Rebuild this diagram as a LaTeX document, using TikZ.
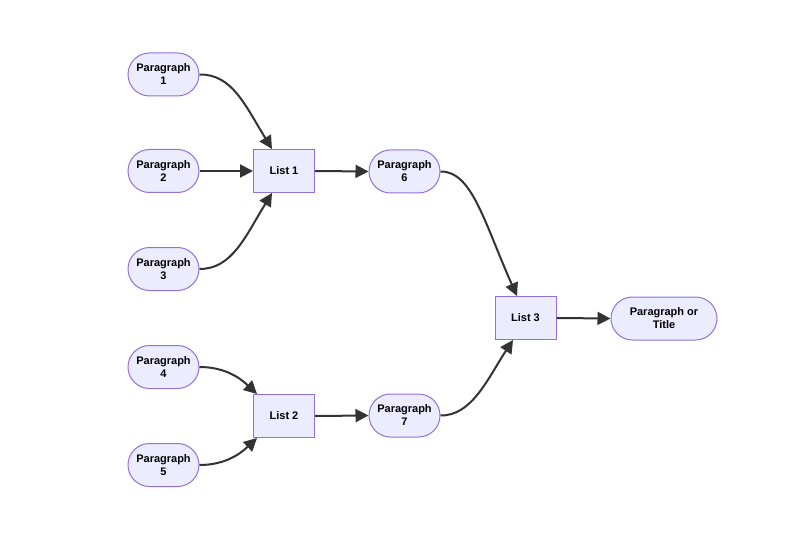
\documentclass[tikz,border=0pt]{standalone}
\usepackage{fontspec}
\setmainfont{Liberation Sans}
\usetikzlibrary{arrows.meta,calc}
\definecolor{nodefill}{HTML}{ECECFF}
\definecolor{nodeborder}{HTML}{9370DB}
\definecolor{edgecol}{HTML}{333333}
\begin{document}
\begin{tikzpicture}[x=1pt,y=-1pt,
  lbl/.style={font=\fontsize{11}{13}\selectfont\bfseries, align=center, text=black},
  para/.style={lbl, draw=nodeborder, fill=nodefill, line width=1pt, rounded corners=21.5pt, minimum width=71pt, minimum height=43pt, inner sep=0pt},
  listbox/.style={lbl, draw=nodeborder, fill=nodefill, line width=1pt, minimum width=61pt, minimum height=43pt, inner sep=0pt},
  edge/.style={draw=edgecol, line width=2pt, -{Triangle[length=13pt,width=13pt]}}
]
\useasboundingbox (0,0) rectangle (791,537);
\fill[white] (0,0) rectangle (791,537);
\node[para] (p1) at (163.5,74.5) {Paragraph\\1};
\node[para] (p2) at (163.5,171) {Paragraph\\2};
\node[para] (p3) at (163.5,269) {Paragraph\\3};
\node[para] (p4) at (163.5,367) {Paragraph\\4};
\node[para] (p5) at (163.5,465) {Paragraph\\5};
\node[listbox] (l1) at (284,171) {List 1};
\node[listbox] (l2) at (284,416) {List 2};
\node[para] (p6) at (404.5,171.5) {Paragraph\\6};
\node[para] (p7) at (404.5,415.5) {Paragraph\\7};
\node[listbox] (l3) at (525.5,318) {List 3};
\node[para, minimum width=106pt] (pt) at (664,318.5) {Paragraph or\\Title};
\coordinate (l1n) at ($(l1.north)+(-12,0)$);
\coordinate (l1s) at ($(l1.south)+(-12,0)$);
\coordinate (l2n) at ($(l2.north west)+(4,0)$);
\coordinate (l2s) at ($(l2.south west)+(4,0)$);
\coordinate (l3n) at ($(l3.north)+(-8.5,0)$);
\coordinate (l3s) at ($(l3.south)+(-12.5,0)$);

\draw[edge] (p1.east) .. controls (232,74) and (245,105) .. (l1n);
\draw[edge] (p2.east) -- (l1.west);
\draw[edge] (p3.east) .. controls (232,269) and (245,237) .. (l1s);
\draw[edge] (p4.east) .. controls (225,367) and (240,378) .. (l2n);
\draw[edge] (p5.east) .. controls (225,465) and (240,454) .. (l2s);
\draw[edge] (l1.east) -- (p6.west);
\draw[edge] (l2.east) -- (p7.west);
\draw[edge] (p6.east) .. controls (472,171) and (484,222) .. (l3n);
\draw[edge] (p7.east) .. controls (472,416) and (488,378) .. (l3s);
\draw[edge] (l3.east) -- (pt.west);
\end{tikzpicture}
\end{document}
